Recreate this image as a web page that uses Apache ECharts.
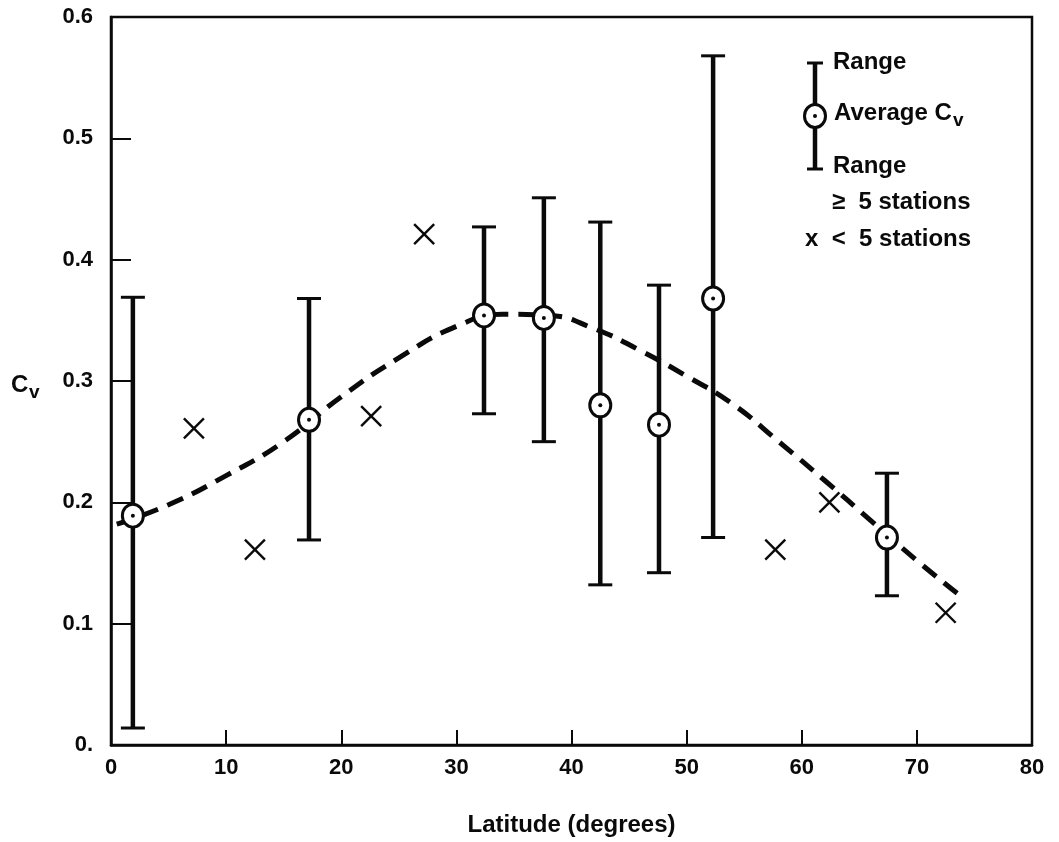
<!DOCTYPE html>
<html>
<head>
<meta charset="utf-8">
<script src="https://cdn.jsdelivr.net/npm/echarts@6/dist/echarts.min.js"></script>
<style>
html,body{margin:0;padding:0;background:#fff;}
#chart{width:1059px;height:842px;}
</style>
</head>
<body>
<div id="chart"></div>
<script>
// ---- data ----
const latAvg  = [1.9, 17.2, 32.4, 37.6, 42.5, 47.6, 52.3, 67.4];
const cvAvg   = [0.189, 0.268, 0.354, 0.352, 0.280, 0.264, 0.368, 0.171];
const cvHigh  = [0.369, 0.368, 0.427, 0.451, 0.431, 0.379, 0.568, 0.224];
const cvLow   = [0.014, 0.169, 0.273, 0.250, 0.132, 0.142, 0.171, 0.123];

const latFew  = [7.2, 12.5, 22.6, 27.2, 57.7, 62.4, 72.5];
const cvFew   = [0.261, 0.161, 0.271, 0.421, 0.161, 0.200, 0.109];

const curveLat = [0.5, 5, 10, 15, 20, 25, 30, 34, 38, 42, 46, 50, 54, 58, 62, 66, 70, 73.5];
const curveCv  = [0.182, 0.198, 0.222, 0.250, 0.287, 0.319, 0.345, 0.355, 0.354, 0.343, 0.325, 0.304, 0.281, 0.250, 0.218, 0.185, 0.152, 0.125];

const xTickLabels = ['0', '10', '20', '30', '40', '50', '60', '70', '80'];
const yTickLabels = ['0.', '0.1', '0.2', '0.3', '0.4', '0.5', '0.6'];

const FONT = '"Liberation Sans", Arial, Helvetica, sans-serif';
const INK = '#0a0a0a';

const chart = echarts.init(document.getElementById('chart'), null, {renderer: 'canvas'});

const errData = latAvg.map((x, i) => [x, cvAvg[i], cvHigh[i], cvLow[i]]);
const fewData = latFew.map((x, i) => [x, cvFew[i]]);
const curveData = curveLat.map((x, i) => [x, curveCv[i]]);

function renderErr(params, api) {
  const x = api.value(0);
  const c = api.coord([x, api.value(1)]);
  const hi = api.coord([x, api.value(2)]);
  const lo = api.coord([x, api.value(3)]);
  const capW = 12;
  return {
    type: 'group',
    children: [
      {type: 'line', shape: {x1: c[0], y1: hi[1], x2: c[0], y2: lo[1]}, style: {stroke: INK, lineWidth: 4.5}},
      {type: 'line', shape: {x1: c[0] - capW, y1: hi[1], x2: c[0] + capW, y2: hi[1]}, style: {stroke: INK, lineWidth: 3}},
      {type: 'line', shape: {x1: c[0] - capW, y1: lo[1], x2: c[0] + capW, y2: lo[1]}, style: {stroke: INK, lineWidth: 3}},
      {type: 'ellipse', shape: {cx: c[0], cy: c[1], rx: 10.5, ry: 11.5}, style: {fill: '#fff', stroke: INK, lineWidth: 3}, z2: 10},
      {type: 'circle', shape: {cx: c[0], cy: c[1], r: 2}, style: {fill: INK}, z2: 11}
    ]
  };
}

function renderX(params, api) {
  const p = api.coord([api.value(0), api.value(1)]);
  const h = 10;
  const st = {stroke: INK, lineWidth: 2.4};
  return {
    type: 'group',
    children: [
      {type: 'line', shape: {x1: p[0] - h, y1: p[1] - h, x2: p[0] + h, y2: p[1] + h}, style: st},
      {type: 'line', shape: {x1: p[0] - h, y1: p[1] + h, x2: p[0] + h, y2: p[1] - h}, style: st}
    ]
  };
}

// legend symbol (decoration, absolute layout)
const legX = 815;
const LF = 'bold 24px ' + FONT;
const legendGraphics = [
  {type: 'line', shape: {x1: legX, y1: 63, x2: legX, y2: 169}, style: {stroke: INK, lineWidth: 4.5}},
  {type: 'line', shape: {x1: legX - 8, y1: 63, x2: legX + 8, y2: 63}, style: {stroke: INK, lineWidth: 3}},
  {type: 'line', shape: {x1: legX - 8, y1: 169, x2: legX + 8, y2: 169}, style: {stroke: INK, lineWidth: 3}},
  {type: 'ellipse', shape: {cx: legX, cy: 116, rx: 10.5, ry: 11.5}, style: {fill: '#fff', stroke: INK, lineWidth: 3}},
  {type: 'circle', shape: {cx: legX, cy: 116, r: 2}, style: {fill: INK}},
  {type: 'text', left: 833, top: 50, style: {text: 'Range', font: LF, fill: INK}},
  {type: 'text', left: 834, top: 101, style: {text: 'Average C', font: LF, fill: INK}},
  {type: 'text', left: 953, top: 111, style: {text: 'v', font: 'bold 19px ' + FONT, fill: INK}},
  {type: 'text', left: 833, top: 154, style: {text: 'Range', font: LF, fill: INK}},
  {type: 'text', left: 832, top: 190, style: {text: '\u2265  5 stations', font: LF, fill: INK}},
  {type: 'text', left: 805, top: 227, style: {text: 'x  <  5 stations', font: LF, fill: INK}},
  // y-axis name  C_v
  {type: 'text', left: 11, top: 373, style: {text: 'C', font: 'bold 24px ' + FONT, fill: INK}},
  {type: 'text', left: 29, top: 383, style: {text: 'v', font: 'bold 19px ' + FONT, fill: INK}}
];

chart.setOption({
  backgroundColor: '#fff',
  animation: false,
  grid: {left: 111, right: 27, top: 17, bottom: 97, show: true, borderColor: INK, borderWidth: 2.5},
  xAxis: {
    type: 'value', min: 0, max: 80, interval: 10,
    name: 'Latitude (degrees)', nameLocation: 'middle', nameGap: 68,
    nameTextStyle: {fontFamily: FONT, fontSize: 24, fontWeight: 'bold', color: INK},
    axisLine: {show: true, lineStyle: {color: INK, width: 2.5}},
    axisTick: {show: true, inside: true, length: 15, lineStyle: {color: INK, width: 2}},
    axisLabel: {fontFamily: FONT, fontSize: 22, fontWeight: 'bold', color: INK, margin: 12,
      formatter: v => xTickLabels[Math.round(v / 10)]},
    splitLine: {show: false}
  },
  yAxis: {
    type: 'value', min: 0, max: 0.6, interval: 0.1,
    axisLine: {show: true, lineStyle: {color: INK, width: 2.5}},
    axisTick: {show: true, inside: true, length: 20, lineStyle: {color: INK, width: 2}},
    axisLabel: {fontFamily: FONT, fontSize: 22, fontWeight: 'bold', color: INK, margin: 18,
      formatter: v => yTickLabels[Math.round(v * 10)]},
    splitLine: {show: false}
  },
  series: [
    {
      type: 'line', data: curveData, showSymbol: false, symbol: 'none',
      smooth: 0.5,
      lineStyle: {color: INK, width: 5, type: [17, 10], cap: 'butt'},
      z: 2, silent: true
    },
    {
      type: 'custom', renderItem: renderErr, data: errData,
      encode: {x: 0, y: [1, 2, 3]}, z: 3, clip: false
    },
    {
      type: 'custom', renderItem: renderX, data: fewData,
      encode: {x: 0, y: 1}, z: 3
    }
  ],
  graphic: legendGraphics
});
</script>
</body>
</html>
